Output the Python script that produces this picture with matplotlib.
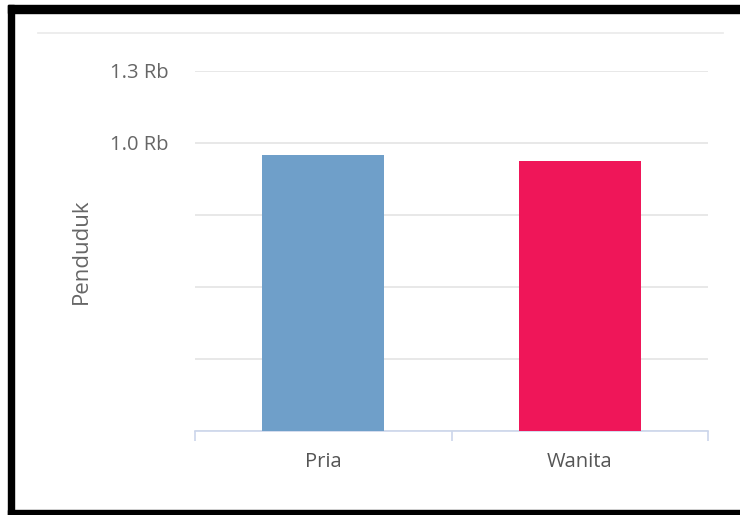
import matplotlib.pyplot as plt
from matplotlib.patches import Rectangle
from matplotlib.lines import Line2D
from matplotlib.ticker import FixedLocator, FuncFormatter

# data
categories = ["Pria", "Wanita"]
penduduk = [959, 938]
colors = ["#6f9fc9", "#ef1659"]
yticks = [0, 250, 500, 750, 1000, 1250]
ytick_labels = {1000: "1.0 Rb", 1250: "1.3 Rb"}

plt.rcParams['font.family'] = ['Open Sans', 'DejaVu Sans']

fig = plt.figure(figsize=(7.4, 5.15), dpi=100)
W, H = 740, 515

def fx(px):
    return px / W

def fy(py):
    return 1 - py / H

ax = fig.add_axes([fx(195), fy(431), fx(708) - fx(195), fy(71) - fy(431)])

x = list(range(len(categories)))
ax.bar(x, penduduk, width=0.476, color=colors, zorder=3)

ax.set_xlim(-0.5, 1.5)
ax.set_ylim(0, 1250)
ax.yaxis.set_major_locator(FixedLocator(yticks))
ax.yaxis.set_major_formatter(FuncFormatter(lambda v, p: ytick_labels.get(int(round(v)), "")))
ax.grid(axis='y', color='#e6e6e6', linewidth=1.3, zorder=0)
ax.tick_params(axis='y', length=0, pad=19, labelsize=14.5, labelcolor='#666666')

ax.set_xticks(x)
ax.set_xticklabels(categories)
ax.xaxis.set_minor_locator(FixedLocator([-0.5, 0.5, 1.5]))
ax.tick_params(axis='x', which='major', length=0, pad=15, labelsize=14.5, labelcolor='#555555')
ax.tick_params(axis='x', which='minor', length=7.5, width=1.2, color='#ccd6eb')

for s in ['top', 'left', 'right']:
    ax.spines[s].set_visible(False)
ax.spines['bottom'].set_color('#ccd6eb')
ax.spines['bottom'].set_linewidth(1.2)

ax.set_ylabel("Penduduk", fontsize=16, color='#666666')
ax.yaxis.set_label_coords((92 - 195) / (708 - 195), 0.5)

# top separator line
fig.add_artist(Line2D([fx(38), fx(723)], [fy(33), fy(33)], color='#ececec', linewidth=1.3))

# black frame (top, left, bottom)
fig.add_artist(Rectangle((fx(8), fy(13)), 1 - fx(8), fy(5) - fy(13), transform=fig.transFigure, color='black'))
fig.add_artist(Rectangle((fx(8), 0), fx(14) - fx(8), fy(5), transform=fig.transFigure, color='black'))
fig.add_artist(Rectangle((fx(8), 0), 1 - fx(8), fy(510), transform=fig.transFigure, color='black'))

fig.savefig("out.png", dpi=100)
